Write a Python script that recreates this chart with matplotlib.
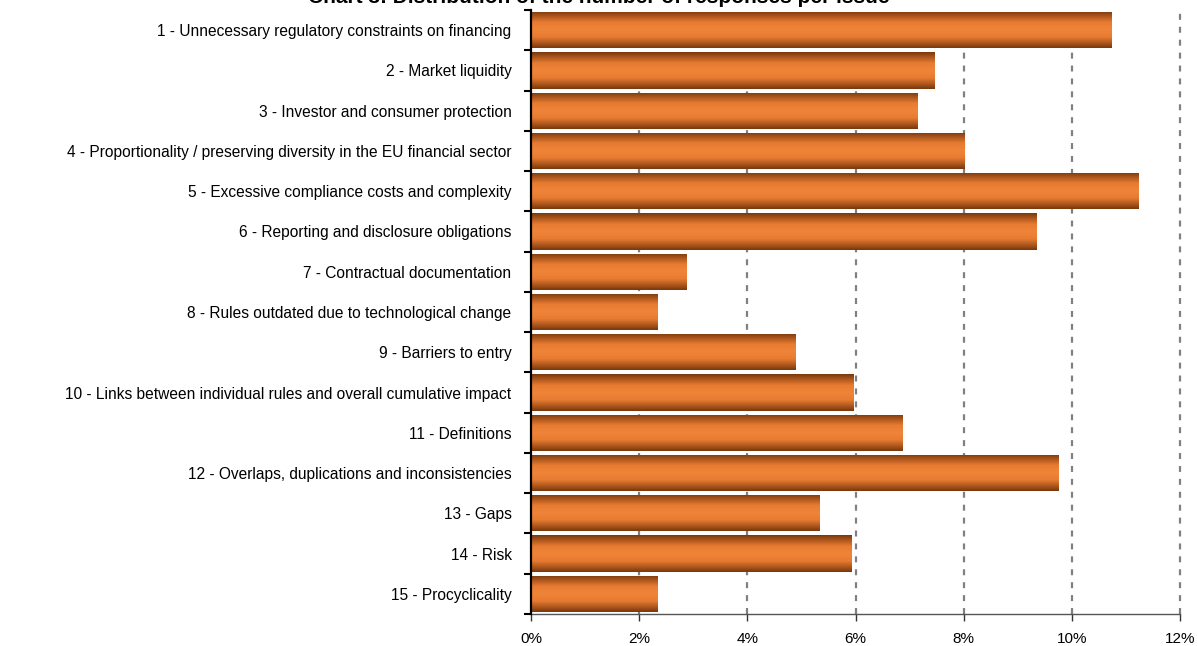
import numpy as np
import matplotlib
matplotlib.use("Agg")
import matplotlib.pyplot as plt
from matplotlib.colors import LinearSegmentedColormap
from matplotlib.ticker import FuncFormatter

plt.rcParams['font.family'] = ['Liberation Sans', 'DejaVu Sans']
plt.rcParams['lines.scale_dashes'] = False

title = "Chart 3: Distribution of the number of responses per issue"

issues = [
    "1 - Unnecessary regulatory constraints on financing",
    "2 - Market liquidity",
    "3 - Investor and consumer protection",
    "4 - Proportionality / preserving diversity in the EU financial sector",
    "5 - Excessive compliance costs and complexity",
    "6 - Reporting and disclosure obligations",
    "7 - Contractual documentation",
    "8 - Rules outdated due to technological change",
    "9 - Barriers to entry",
    "10 - Links between individual rules and overall cumulative impact",
    "11 - Definitions",
    "12 - Overlaps, duplications and inconsistencies",
    "13 - Gaps",
    "14 - Risk",
    "15 - Procyclicality",
]
shares = [10.74, 7.46, 7.15, 8.02, 11.24, 9.35, 2.87, 2.33, 4.89, 5.96,
          6.87, 9.76, 5.33, 5.93, 2.33]
xticks = [0, 2, 4, 6, 8, 10, 12]

fig = plt.figure(figsize=(11.98, 6.46), dpi=100)
ax = fig.add_axes([531/1198, 1 - 614/646, (1180-531)/1198, (614-10)/646])

# bar gradient: dark brown edges, orange centre
cmap = LinearSegmentedColormap.from_list(
    "copper_bar",
    [(0.0, "#7a3a0c"), (0.12, "#a9541b"), (0.3, "#e77b31"), (0.5, "#f08438"),
     (0.7, "#e77b31"), (0.88, "#a9541b"), (1.0, "#7a3a0c")])
grad = np.linspace(0, 1, 64).reshape(-1, 1)

y = np.arange(len(issues))
bars = ax.barh(y, shares, height=0.9, color="none", edgecolor="none", zorder=3)
for b in bars:
    x0, y0 = b.get_x(), b.get_y()
    w, h = b.get_width(), b.get_height()
    im = ax.imshow(grad, cmap=cmap, aspect="auto", interpolation="bilinear",
                   extent=(x0, x0 + w, y0 + h, y0), zorder=3)
    im.set_clip_path(b)

ax.set_xlim(0, 12)
ax.set_ylim(len(issues) - 0.5, -0.5)

# dashed vertical gridlines
for xv in xticks[1:]:
    ax.axvline(xv, color="#808080", linewidth=1.6, linestyle=(0, (4.3, 5)),
               zorder=1, clip_on=False)

ax.set_xticks(xticks)
ax.xaxis.set_major_formatter(FuncFormatter(lambda v, p: f"{v:.0f}%"))
ax.tick_params(axis="x", length=5, width=1, color="#333333", labelsize=11, pad=8)

# category labels at centres, ticks at category boundaries
ax.set_yticks(np.arange(len(issues) + 1) - 0.5)
ax.set_yticklabels([])
ax.set_yticks(y, minor=True)
ax.set_yticklabels(issues, minor=True, fontsize=11.2)
ax.tick_params(axis="y", which="major", length=5, width=1.5, color="black")
ax.tick_params(axis="y", which="minor", length=0, pad=14)

for s in ["top", "right"]:
    ax.spines[s].set_visible(False)
ax.spines["left"].set_color("black")
ax.spines["left"].set_linewidth(1.6)
ax.spines["left"].set_zorder(5)
ax.spines["bottom"].set_color("#555555")
ax.spines["bottom"].set_linewidth(1)

fig.text(0.5, 1 - 3/646, title, ha="center", va="baseline",
         fontsize=15, fontweight="bold")

fig.savefig("out.png", dpi=100)
